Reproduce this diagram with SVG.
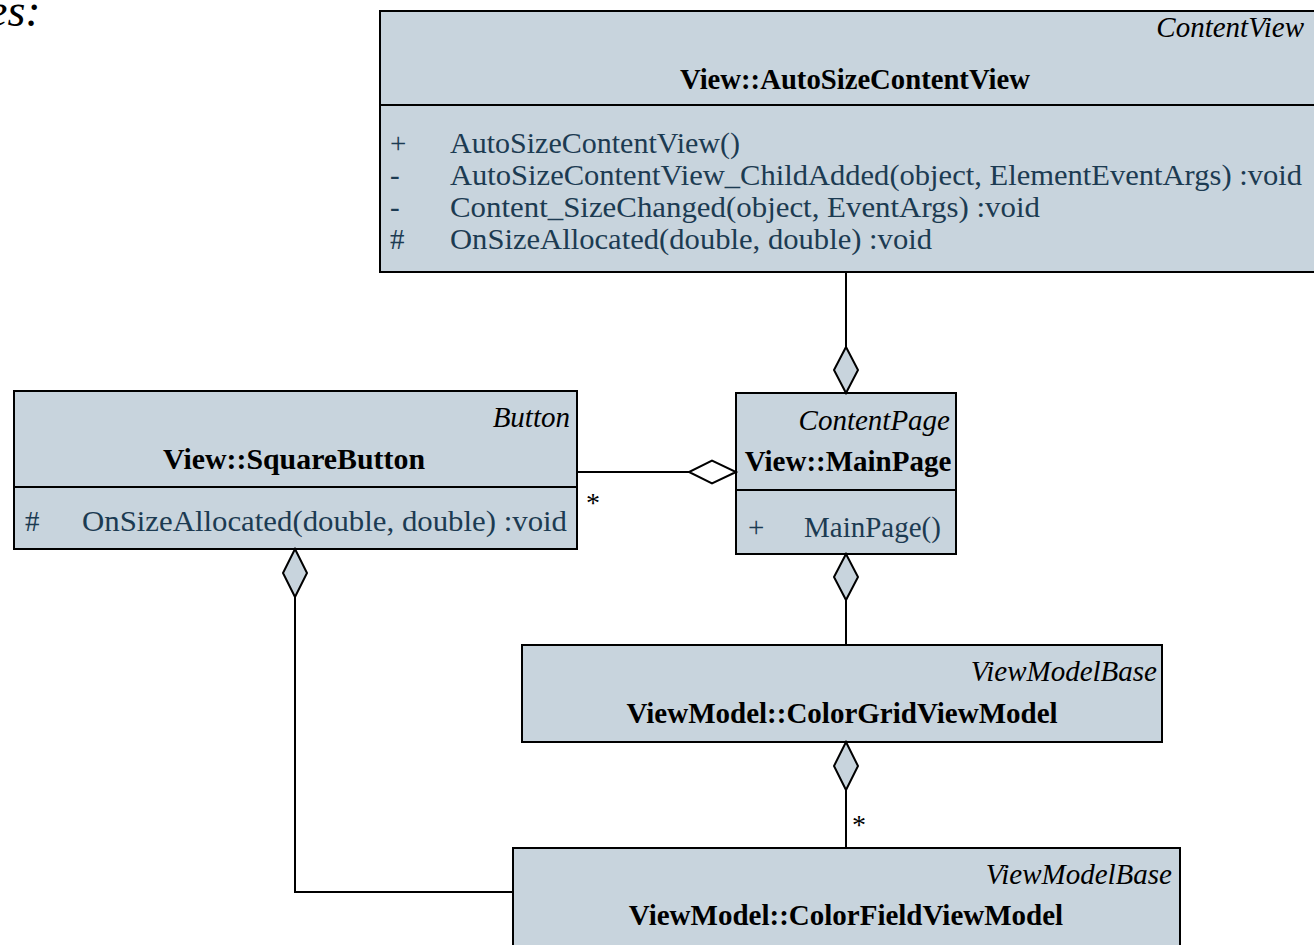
<svg xmlns="http://www.w3.org/2000/svg" width="1314" height="945" viewBox="0 0 1314 945">
<style>
text{font-family:'Liberation Serif','Times New Roman',Times,'DejaVu Serif',serif}
.box{fill:#c8d4dd;stroke:#000;stroke-width:2}
.div{stroke:#000;stroke-width:2}
.st{font-style:italic;font-size:29px;fill:#000;text-anchor:end}
.tt{font-weight:bold;font-size:29px;fill:#000;text-anchor:middle}
.m{font-size:29px;fill:#1c3b52}
.c{fill:none;stroke:#000;stroke-width:2}
.dh{fill:#fff;stroke:#000;stroke-width:2}
.dg{fill:#c8d4dd;stroke:#000;stroke-width:2}
.lbl{font-size:28px;fill:#000}
</style>
<rect width="1314" height="945" fill="#fff"/>
<text x="-13" y="26" font-style="italic" font-size="46" fill="#000">es:</text>

<g id="AutoSizeContentView">
<rect class="box" x="380" y="11" width="940" height="261"/>
<line class="div" x1="380" y1="105" x2="1314" y2="105"/>
<text class="st" x="1304" y="37">ContentView</text>
<text class="tt" x="855" y="89" textLength="350" lengthAdjust="spacingAndGlyphs">View::AutoSizeContentView</text>
<text class="m" x="390" y="153">+</text>
<text class="m" x="450" y="153" textLength="290" lengthAdjust="spacingAndGlyphs">AutoSizeContentView()</text>
<text class="m" x="390" y="185">-</text>
<text class="m" x="450" y="185" textLength="852" lengthAdjust="spacingAndGlyphs">AutoSizeContentView_ChildAdded(object, ElementEventArgs)  :void</text>
<text class="m" x="390" y="217">-</text>
<text class="m" x="450" y="217" textLength="590" lengthAdjust="spacingAndGlyphs">Content_SizeChanged(object, EventArgs)  :void</text>
<text class="m" x="390" y="249">#</text>
<text class="m" x="450" y="249" textLength="482" lengthAdjust="spacingAndGlyphs">OnSizeAllocated(double, double)  :void</text>
</g>

<g id="SquareButton">
<rect class="box" x="14" y="391" width="563" height="158"/>
<line class="div" x1="14" y1="487" x2="577" y2="487"/>
<text class="st" x="570" y="427">Button</text>
<text class="tt" x="294" y="469" textLength="262" lengthAdjust="spacingAndGlyphs">View::SquareButton</text>
<text class="m" x="25" y="531">#</text>
<text class="m" x="82" y="531" textLength="485" lengthAdjust="spacingAndGlyphs">OnSizeAllocated(double, double)  :void</text>
</g>

<g id="MainPage">
<rect class="box" x="736" y="393" width="220" height="161"/>
<line class="div" x1="736" y1="490" x2="956" y2="490"/>
<text class="st" x="950" y="430">ContentPage</text>
<text class="tt" x="848" y="471">View::MainPage</text>
<text class="m" x="748" y="537">+</text>
<text class="m" x="804" y="537">MainPage()</text>
</g>

<g id="ColorGridViewModel">
<rect class="box" x="522" y="645" width="640" height="97"/>
<text class="st" x="1157" y="681">ViewModelBase</text>
<text class="tt" x="842" y="723">ViewModel::ColorGridViewModel</text>
</g>

<g id="ColorFieldViewModel">
<rect class="box" x="513" y="848" width="667" height="110"/>
<text class="st" x="1172" y="884">ViewModelBase</text>
<text class="tt" x="846" y="925">ViewModel::ColorFieldViewModel</text>
</g>

<g id="connectors">
<line class="c" x1="846" y1="272" x2="846" y2="347"/>
<polygon class="dg" points="846,347 858,370 846,393 834,370"/>
<line class="c" x1="577" y1="472" x2="689" y2="472"/>
<polygon class="dh" points="736,472 712,483.5 689,472 712,460.5"/>
<text class="lbl" x="586" y="512">*</text>
<polygon class="dg" points="846,554 858,577 846,600 834,577"/>
<line class="c" x1="846" y1="600" x2="846" y2="645"/>
<polygon class="dg" points="846,742 858,766 846,790 834,766"/>
<line class="c" x1="846" y1="790" x2="846" y2="848"/>
<text class="lbl" x="852" y="834">*</text>
<polygon class="dg" points="295,549 307,573 295,597 283,573"/>
<polyline class="c" points="295,597 295,892 513,892"/>
</g>
</svg>
